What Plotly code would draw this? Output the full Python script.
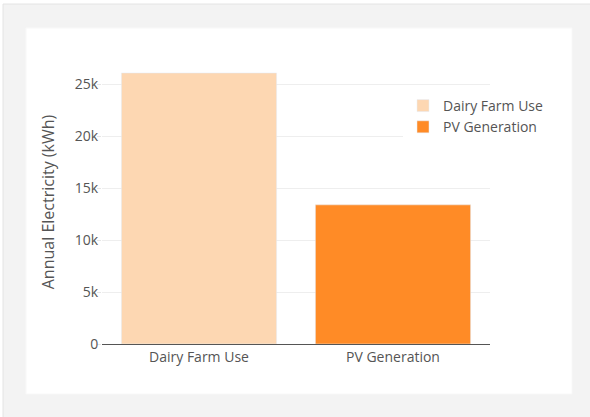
import plotly.graph_objects as go

# Annual electricity figures (kWh)
categories = ["Dairy Farm Use", "PV Generation"]
values = [26100, 13400]
colors = ["rgb(253,215,178)", "rgb(255,139,38)"]
y_tick_vals = [0, 5000, 10000, 15000, 20000, 25000]
y_tick_text = ["0", "5k", "10k", "15k", "20k", "25k"]

W, H = 590, 417
L, R, T, B = 102, 100, 60, 73
pw, ph = W - L - R, H - T - B


def px_x(x):
    return (x - L) / pw


def px_y(y):
    return (H - B - y) / ph


fig = go.Figure()
for name, val, col in zip(categories, values, colors):
    fig.add_trace(go.Bar(x=[name], y=[val], name=name, marker_color=col))

shapes = [
    # outer panel
    dict(type="rect", xref="paper", yref="paper", layer="below",
         x0=px_x(3), x1=px_x(W + 2), y0=px_y(4), y1=px_y(H + 2),
         fillcolor="#f3f3f3", line=dict(color="#e4e4e4", width=1)),
    # white card
    dict(type="rect", xref="paper", yref="paper", layer="below",
         x0=px_x(26), x1=px_x(572), y0=px_y(28), y1=px_y(394),
         fillcolor="#ffffff", line=dict(color="#f8f8f8", width=1)),
]

fig.update_layout(
    width=W, height=H,
    margin=dict(l=L, r=R, t=T, b=B, pad=0),
    paper_bgcolor="#ffffff", plot_bgcolor="rgba(0,0,0,0)",
    font=dict(family="Open Sans", size=14, color="#555"),
    barmode="relative", bargap=0.2,
    showlegend=True,
    legend=dict(x=px_x(403), y=px_y(90), xanchor="left", yanchor="top",
                bgcolor="#ffffff", font=dict(size=14, color="#555")),
    shapes=shapes,
    xaxis=dict(showline=True, linecolor="#555", linewidth=1, ticks="",
               tickfont=dict(size=14, color="#555"), showgrid=False),
    yaxis=dict(range=[0, 27350], tickvals=y_tick_vals, ticktext=y_tick_text,
               ticks="outside", ticklen=4, tickcolor="#e6e6e6",
               ticklabelstandoff=-4,
               gridcolor="#eee", zeroline=False, showline=False,
               tickfont=dict(size=14, color="#555"),
               title=dict(text="Annual Electricity (kWh)",
                          font=dict(size=16, color="#555"), standoff=16)),
)

fig.write_html("out.html")
